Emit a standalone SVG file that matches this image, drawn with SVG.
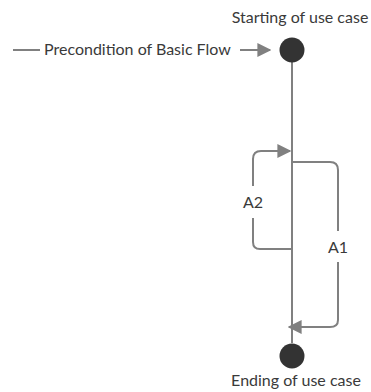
<svg xmlns="http://www.w3.org/2000/svg" width="371" height="392" viewBox="0 0 371 392">
  <style>
    .lbl { font-family: Lato, "Noto Sans", sans-serif; font-size: 16px; fill: #3a3a3a; }
    .flow { fill: none; stroke: #808080; stroke-width: 2; stroke-linejoin: round; }
    .node { fill: #333333; }
  </style>
  <defs>
    <marker id="arrow" viewBox="0 0 10 10" refX="9" refY="5" markerWidth="7" markerHeight="7" markerUnits="strokeWidth" orient="auto">
      <path d="M0,0 L10,5 L0,10 Z" fill="#808080"/>
    </marker>
  </defs>

  <rect width="371" height="392" fill="#ffffff"/>

  <g id="connectors">
    <!-- main flow -->
    <path class="flow" d="M292,62 V343"/>
    <!-- precondition -->
    <path class="flow" d="M13,50 H40"/>
    <path class="flow" d="M240,50 H270" marker-end="url(#arrow)"/>
    <!-- A2 loop back -->
    <path class="flow" d="M292,249 H260 Q253,249 253,242 V218"/>
    <path class="flow" d="M253,186 V159 Q253,151 261,151 H290" marker-end="url(#arrow)"/>
    <!-- A1 alternative -->
    <path class="flow" d="M292,162 H330 Q338,162 338,170 V231"/>
    <path class="flow" d="M338,262 V320 Q338,327 330,327 H289" marker-end="url(#arrow)"/>
  </g>

  <g id="start">
    <circle class="node" cx="292" cy="50" r="12.5"/>
    <text class="lbl" x="300" y="23" text-anchor="middle">Starting of use case</text>
  </g>
  <g id="precondition">
    <text class="lbl" x="44" y="55">Precondition of Basic Flow</text>
  </g>
  <g id="a2">
    <text class="lbl" x="253" y="208" text-anchor="middle">A2</text>
  </g>
  <g id="a1">
    <text class="lbl" x="338" y="253" text-anchor="middle">A1</text>
  </g>
  <g id="end">
    <circle class="node" cx="292" cy="356" r="12.5"/>
    <text class="lbl" x="296" y="386" text-anchor="middle">Ending of use case</text>
  </g>
</svg>
